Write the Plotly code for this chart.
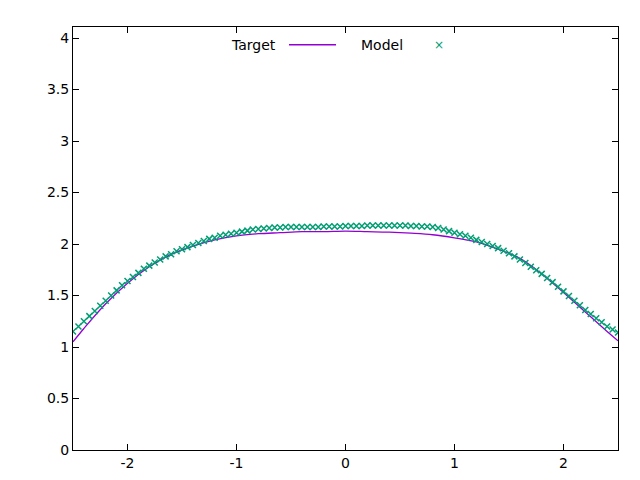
import plotly.graph_objects as go

target_x = [-2.5, -2.4, -2.2, -2.0, -1.8, -1.6, -1.4, -1.2, -1.0, -0.8, -0.6, -0.4, -0.2, 0.0,
            0.2, 0.4, 0.6, 0.8, 1.0, 1.2, 1.4, 1.6, 1.8, 2.0, 2.2, 2.4, 2.5]
target_y = [1.05, 1.18, 1.42, 1.62, 1.78, 1.90, 1.98, 2.04, 2.08, 2.10, 2.11, 2.12, 2.12, 2.125,
            2.12, 2.115, 2.105, 2.09, 2.06, 2.02, 1.95, 1.86, 1.71, 1.53, 1.34, 1.15, 1.06]

model_x = [round(-2.5 + 0.05 * i, 2) for i in range(101)]
model_y = [1.15, 1.20, 1.25, 1.30, 1.35, 1.40, 1.45, 1.50, 1.55, 1.60,
           1.64, 1.68, 1.72, 1.76, 1.79, 1.82, 1.85, 1.88, 1.90, 1.93,
           1.95, 1.97, 1.99, 2.01, 2.03, 2.05, 2.06, 2.08, 2.09, 2.10,
           2.11, 2.12, 2.13, 2.14, 2.145, 2.15, 2.155, 2.16, 2.16, 2.165,
           2.165, 2.165, 2.165, 2.165, 2.165, 2.165, 2.17, 2.17, 2.17, 2.17,
           2.175, 2.175, 2.175, 2.175, 2.18, 2.18, 2.18, 2.18, 2.18, 2.18,
           2.18, 2.18, 2.175, 2.175, 2.17, 2.17, 2.165, 2.155, 2.14, 2.125,
           2.11, 2.095, 2.08, 2.06, 2.04, 2.02, 2.00, 1.98, 1.96, 1.935,
           1.91, 1.88, 1.85, 1.815, 1.78, 1.745, 1.71, 1.67, 1.63, 1.585,
           1.54, 1.495, 1.45, 1.405, 1.36, 1.32, 1.28, 1.24, 1.20, 1.17, 1.14]

x_ticks = [-2, -1, 0, 1, 2]
y_ticks = [0, 0.5, 1, 1.5, 2, 2.5, 3, 3.5, 4]
legend_names = ["Target", "Model"]

PURPLE = "#9400d3"
GREEN = "#009e73"
FONT = dict(family="DejaVu Sans", size=14, color="black")

fig = go.Figure()
fig.add_trace(go.Scatter(x=target_x, y=target_y, mode="lines", name=legend_names[0],
                         line=dict(color=PURPLE, width=1.3, shape="spline")))
fig.add_trace(go.Scatter(x=model_x, y=model_y, mode="markers", name=legend_names[1],
                         marker=dict(symbol="x-thin", size=6, color=GREEN,
                                     line=dict(width=1.5, color=GREEN))))

ax = dict(showgrid=False, zeroline=False, showline=True, linecolor="black", linewidth=1,
          mirror="ticks", ticks="inside", ticklen=6, tickcolor="black",
          tickfont=FONT, automargin=False)

# gnuplot-style key: text then sample
ly = 0.958
fig.add_annotation(xref="paper", yref="paper", x=(270 - 65) / 545, y=ly, text=legend_names[0],
                   showarrow=False, xanchor="right", yanchor="middle", font=FONT)
fig.add_shape(type="line", xref="paper", yref="paper", x0=(281 - 65) / 545, x1=(328 - 65) / 545,
              y0=ly, y1=ly, line=dict(color=PURPLE, width=1.3))
fig.add_annotation(xref="paper", yref="paper", x=(397 - 65) / 545, y=ly, text=legend_names[1],
                   showarrow=False, xanchor="right", yanchor="middle", font=FONT)
fig.add_annotation(xref="paper", yref="paper", x=(431 - 65) / 545, y=ly, text="×",
                   showarrow=False, xanchor="center", yanchor="middle",
                   font=dict(family="DejaVu Sans", size=12, color=GREEN))

fig.update_layout(
    width=640, height=480, plot_bgcolor="white", paper_bgcolor="white",
    margin=dict(l=65, r=30, t=19, b=38),
    xaxis=dict(range=[-2.5, 2.5], tickvals=x_ticks, ticktext=[str(v) for v in x_ticks], **ax),
    yaxis=dict(range=[0, 4.107], tickvals=y_ticks, ticktext=["0", "0.5", "1", "1.5", "2", "2.5", "3", "3.5", "4"], **ax),
    showlegend=False,
)
fig.write_html("out.html")
